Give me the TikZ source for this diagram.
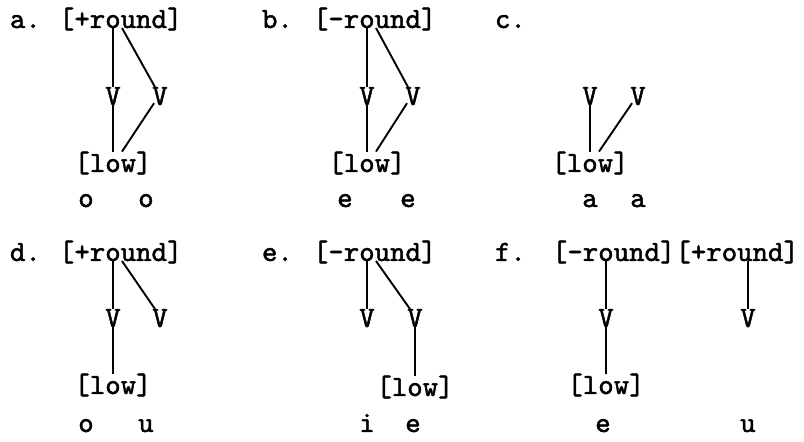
\documentclass[tikz,border=0pt]{standalone}
\usepackage{fontspec}
\usepackage{tikz}
\usetikzlibrary{calc}
\newfontfamily\typew{lmmono10-regular.otf}[FakeBold=1.6]

\begin{document}
\begin{tikzpicture}[
    x=0.5pt, y=-0.5pt,
    every node/.style={font=\typew\bfseries\fontsize{14.7}{18}\selectfont, inner sep=0pt, outer sep=0pt},
    feat/.style={anchor=base, text depth=0pt},
    slot/.style={anchor=base},
    tag/.style={anchor=base west},
    link/.style={line width=0.95pt}
]
\useasboundingbox (0,0) rectangle (804,442);

% a.
\node[tag]  (la)   at (10,28)    {a.};
\node[feat] (fa)   at (120.7,28) {[+round]};
\node[slot] (va1)  at (113,105)  {V};
\node[slot] (va2)  at (160,105)  {V};
\node[feat] (lowa) at (113,172)  {[low]};
\node[slot] (sa1)  at (86,207)   {o};
\node[slot] (sa2)  at (146,207)  {o};
\draw[link] (va1 |- fa.base) -- (va1.north);
\draw[link] ($(va1 |- fa.base)+(9,0)$) -- ($(va2.north)+(-5,0)$);
\draw[link] (va1.south) -- (lowa.north);
\draw[link] ($(va2.south)+(-6,-2)$) -- ($(lowa.north)+(9,0)$);

% b.
\node[tag]  (lb)   at (262,28)   {b.};
\node[feat] (fb)   at (374.7,28) {[-round]};
\node[slot] (vb1)  at (367,105)  {V};
\node[slot] (vb2)  at (413,105)  {V};
\node[feat] (lowb) at (367,172)  {[low]};
\node[slot] (sb1)  at (345,207)  {e};
\node[slot] (sb2)  at (408,207)  {e};
\draw[link] (vb1 |- fb.base) -- (vb1.north);
\draw[link] ($(vb1 |- fb.base)+(9,0)$) -- ($(vb2.north)+(-5,0)$);
\draw[link] (vb1.south) -- (lowb.north);
\draw[link] ($(vb2.south)+(-6,-2)$) -- ($(lowb.north)+(9,0)$);

% c.
\node[tag]  (lc)   at (495,28)   {c.};
\node[slot] (vc1)  at (590,105)  {V};
\node[slot] (vc2)  at (638,105)  {V};
\node[feat] (lowc) at (590,172)  {[low]};
\node[slot] (sc1)  at (590,207)  {a};
\node[slot] (sc2)  at (638,207)  {a};
\draw[link] (vc1.south) -- (lowc.north);
\draw[link] ($(vc2.south)+(-6,-2)$) -- ($(lowc.north)+(9,0)$);

% d.
\node[tag]  (ld)   at (10,261)    {d.};
\node[feat] (fd)   at (120.7,261) {[+round]};
\node[slot] (vd1)  at (113,327)   {V};
\node[slot] (vd2)  at (160,327)   {V};
\node[feat] (lowd) at (113,394)   {[low]};
\node[slot] (sd1)  at (86,432)    {o};
\node[slot] (sd2)  at (146,432)   {u};
\draw[link] (vd1 |- fd.base) -- (vd1.north);
\draw[link] ($(vd1 |- fd.base)+(9,0)$) -- ($(vd2.north)+(-5,0)$);
\draw[link] (vd1.south) -- (lowd.north);

% e.
\node[tag]  (le)   at (262,261)   {e.};
\node[feat] (fe)   at (374.7,261) {[-round]};
\node[slot] (ve1)  at (367,327)   {V};
\node[slot] (ve2)  at (415,327)   {V};
\node[feat] (lowe) at (415,396)   {[low]};
\node[slot] (se1)  at (367,432)   {i};
\node[slot] (se2)  at (413,432)   {e};
\draw[link] (ve1 |- fe.base) -- (ve1.north);
\draw[link] ($(ve1 |- fe.base)+(9,0)$) -- ($(ve2.north)+(-5,0)$);
\draw[link] (ve2.south) -- (lowe.north);

% f.
\node[tag]  (lf)   at (495,261)   {f.};
\node[feat] (ff1)  at (613.7,261) {[-round]};
\node[feat, anchor=base west] (ff2) at (ff1.base east) {[+round]};
\node[slot] (vf1)  at (606,327)   {V};
\node[slot] (vf2)  at (748,327)   {V};
\node[feat] (lowf) at (606,394)   {[low]};
\node[slot] (sf1)  at (603,432)   {e};
\node[slot] (sf2)  at (748,432)   {u};
\draw[link] (vf1 |- ff1.base) -- (vf1.north);
\draw[link] (vf1.south) -- (lowf.north);
\draw[link] (vf2 |- ff2.base) -- (vf2.north);

\end{tikzpicture}
\end{document}
